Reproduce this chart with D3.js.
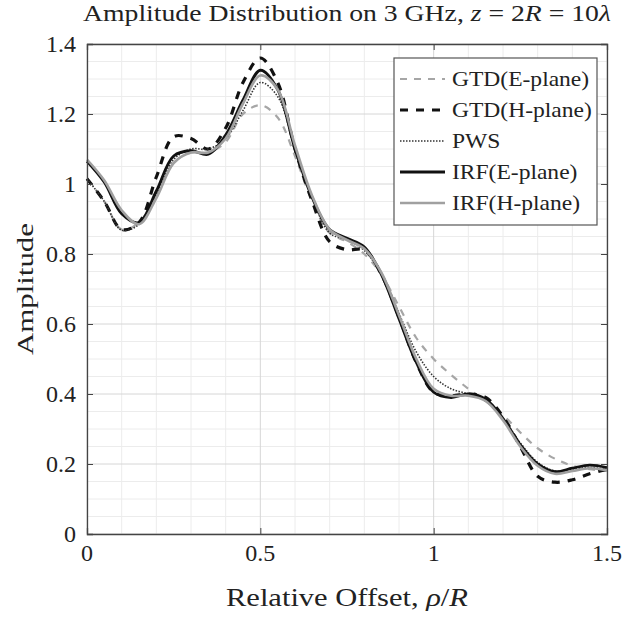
<!DOCTYPE html>
<html>
<head>
<meta charset="utf-8">
<script src="https://cdn.jsdelivr.net/npm/d3@7/dist/d3.min.js"></script>
<style>
	body { margin: 0; background: #fff; }
	svg { display: block; }
	text { font-family: "Liberation Serif", "Times New Roman", serif; fill: #222; }
</style>
</head>
<body>
<script>
(function() {

"use strict";

// relative offset rho/R, sampled every 0.05
const OFFSET = [
	0.00, 0.05, 0.10, 0.15, 0.20, 0.25, 0.30, 0.35, 0.40, 0.45,
	0.50, 0.55, 0.60, 0.65, 0.70, 0.75, 0.80, 0.85, 0.90, 0.95,
	1.00, 1.05, 1.10, 1.15, 1.20, 1.25, 1.30, 1.35, 1.40, 1.45, 1.50,
];

const GTD_E = [
	1.015, 0.950, 0.870, 0.890, 0.970, 1.060, 1.090, 1.090, 1.120, 1.200,
	1.225, 1.190, 1.080, 0.950, 0.860, 0.835, 0.800, 0.740, 0.650, 0.560,
	0.500, 0.455, 0.415, 0.380, 0.340, 0.290, 0.245, 0.215, 0.195, 0.185, 0.180,
];

const GTD_H = [
	1.015, 0.950, 0.870, 0.890, 1.020, 1.135, 1.130, 1.100, 1.160, 1.290,
	1.360, 1.290, 1.100, 0.950, 0.835, 0.812, 0.812, 0.740, 0.620, 0.490,
	0.405, 0.395, 0.400, 0.390, 0.335, 0.250, 0.165, 0.148, 0.155, 0.172, 0.185,
];

const PWS = [
	1.015, 0.950, 0.868, 0.885, 0.970, 1.070, 1.100, 1.100, 1.130, 1.210,
	1.290, 1.250, 1.100, 0.960, 0.860, 0.840, 0.810, 0.740, 0.630, 0.520,
	0.450, 0.415, 0.400, 0.380, 0.330, 0.260, 0.205, 0.180, 0.185, 0.190, 0.185,
];

const IRF_E = [
	1.065, 1.005, 0.915, 0.890, 0.980, 1.080, 1.095, 1.085, 1.140, 1.240,
	1.325, 1.270, 1.100, 0.960, 0.870, 0.845, 0.820, 0.740, 0.615, 0.490,
	0.405, 0.390, 0.400, 0.385, 0.330, 0.255, 0.200, 0.178, 0.188, 0.197, 0.190,
];

const IRF_H = [
	1.070, 1.010, 0.925, 0.885, 0.960, 1.060, 1.090, 1.090, 1.130, 1.230,
	1.310, 1.270, 1.110, 0.965, 0.870, 0.840, 0.815, 0.745, 0.625, 0.500,
	0.415, 0.395, 0.395, 0.380, 0.325, 0.250, 0.195, 0.172, 0.180, 0.188, 0.182,
];

const SERIES = ["GTD(E-plane)", "GTD(H-plane)", "PWS", "IRF(E-plane)", "IRF(H-plane)"];
const VALUES = [GTD_E, GTD_H, PWS, IRF_E, IRF_H];

const X_TICKS = [0, 0.5, 1, 1.5];
const Y_TICKS = [0, 0.2, 0.4, 0.6, 0.8, 1, 1.2, 1.4];
const X_MINOR = [0.1, 0.2, 0.3, 0.4, 0.6, 0.7, 0.8, 0.9, 1.1, 1.2, 1.3, 1.4];
const Y_MINOR = [0.05, 0.1, 0.15, 0.25, 0.3, 0.35, 0.45, 0.5, 0.55, 0.65, 0.7, 0.75,
	0.85, 0.9, 0.95, 1.05, 1.1, 1.15, 1.25, 1.3, 1.35];

const STYLE = {
	"GTD(E-plane)": {color: "#a6a6a6", width: 2.2, dash: "7,7"},
	"GTD(H-plane)": {color: "#111", width: 3.2, dash: "8,8"},
	"PWS":          {color: "#333", width: 1.6, dash: "1.5,1.5"},
	"IRF(E-plane)": {color: "#111", width: 2.8, dash: null},
	"IRF(H-plane)": {color: "#a0a0a0", width: 2.6, dash: null},
};

const width = 625, height = 618;
const margin = {top: 44, right: 18, bottom: 84, left: 87};

let svg = d3.select("body").append("svg")
	.attr("width", width)
	.attr("height", height);

let scale = {
	x: d3.scaleLinear().domain([0, 1.5]).range([margin.left, width - margin.right]),
	y: d3.scaleLinear().domain([0, 1.4]).range([height - margin.bottom, margin.top]),
};

let [x0, x1] = scale.x.range();
let [y0, y1] = scale.y.range();

// grid
let grid = svg.append("g").attr("class", "grid");

grid.selectAll("line.minor-x")
	.data(X_MINOR)
	.join("line")
		.attr("x1", d => scale.x(d)).attr("x2", d => scale.x(d))
		.attr("y1", y0).attr("y2", y1)
		.attr("stroke", "#ececec");

grid.selectAll("line.minor-y")
	.data(Y_MINOR)
	.join("line")
		.attr("y1", d => scale.y(d)).attr("y2", d => scale.y(d))
		.attr("x1", x0).attr("x2", x1)
		.attr("stroke", "#ececec");

grid.append("g")
	.selectAll("line")
	.data(X_TICKS)
	.join("line")
		.attr("x1", d => scale.x(d)).attr("x2", d => scale.x(d))
		.attr("y1", y0).attr("y2", y1)
		.attr("stroke", "#d6d6d6");

grid.append("g")
	.selectAll("line")
	.data(Y_TICKS)
	.join("line")
		.attr("y1", d => scale.y(d)).attr("y2", d => scale.y(d))
		.attr("x1", x0).attr("x2", x1)
		.attr("stroke", "#d6d6d6");

// curves
let line = d3.line()
	.x(d => scale.x(d[0]))
	.y(d => scale.y(d[1]))
	.curve(d3.curveCatmullRom.alpha(0.5));

svg.append("g")
	.attr("class", "chart")
	.selectAll("path")
	.data(SERIES)
	.join("path")
		.attr("d", (name, i) => line(OFFSET.map((x, j) => [x, VALUES[i][j]])))
		.attr("fill", "none")
		.attr("stroke", d => STYLE[d].color)
		.attr("stroke-width", d => STYLE[d].width)
		.attr("stroke-dasharray", d => STYLE[d].dash);

// axes (box with inward ticks)
let frame = "#444";

function axis(gen, transform, size) {
	svg.append("g")
		.attr("transform", transform)
		.call(gen.tickSize(size).tickFormat(""))
		.call(g => g.select(".domain").attr("stroke", frame).attr("stroke-width", 1.3))
		.call(g => g.selectAll(".tick line").attr("stroke", frame));
}

axis(d3.axisBottom(scale.x).tickValues(X_TICKS), `translate(0, ${y0})`, -6);
axis(d3.axisTop(scale.x).tickValues(X_TICKS), `translate(0, ${y1})`, -6);
axis(d3.axisLeft(scale.y).tickValues(Y_TICKS), `translate(${x0}, 0)`, -6);
axis(d3.axisRight(scale.y).tickValues(Y_TICKS), `translate(${x1}, 0)`, -6);

svg.selectAll(".domain").attr("fill", "none");

// tick labels
svg.append("g")
	.selectAll("text")
	.data(X_TICKS)
	.join("text")
		.attr("x", d => scale.x(d))
		.attr("y", 561)
		.attr("text-anchor", "middle")
		.attr("font-size", 24)
		.text(d => d3.format("~g")(d));

svg.append("g")
	.selectAll("text")
	.data(Y_TICKS)
	.join("text")
		.attr("x", x0 - 11)
		.attr("y", d => scale.y(d))
		.attr("dy", "0.35em")
		.attr("text-anchor", "end")
		.attr("font-size", 24)
		.text(d => d3.format("~g")(d));

// title
let title = svg.append("text")
	.attr("x", (x0 + x1) / 2)
	.attr("y", 21)
	.attr("text-anchor", "middle")
	.attr("font-size", 23)
	.attr("textLength", 528)
	.attr("lengthAdjust", "spacingAndGlyphs");
title.append("tspan").text("Amplitude Distribution on 3 GHz, ");
title.append("tspan").attr("font-style", "italic").text("z");
title.append("tspan").text(" = 2");
title.append("tspan").attr("font-style", "italic").text("R");
title.append("tspan").text(" = 10");
title.append("tspan").attr("font-style", "italic").text("λ");

// axis labels
let xlabel = svg.append("text")
	.attr("x", (x0 + x1) / 2)
	.attr("y", 606)
	.attr("text-anchor", "middle")
	.attr("font-size", 25)
	.attr("textLength", 242)
	.attr("lengthAdjust", "spacingAndGlyphs");
xlabel.append("tspan").text("Relative Offset, ");
xlabel.append("tspan").attr("font-style", "italic").text("ρ");
xlabel.append("tspan").text("/");
xlabel.append("tspan").attr("font-style", "italic").text("R");

svg.append("text")
	.attr("transform", `translate(33, ${(y0 + y1) / 2}) rotate(-90)`)
	.attr("text-anchor", "middle")
	.attr("font-size", 24)
	.attr("textLength", 132)
	.attr("lengthAdjust", "spacingAndGlyphs")
	.text("Amplitude");

// legend
let legend = svg.append("g").attr("transform", "translate(394, 58)");

legend.append("rect")
	.attr("width", 203)
	.attr("height", 167)
	.attr("fill", "#fff")
	.attr("stroke", "#555")
	.attr("stroke-width", 1.2);

let item = legend.selectAll("g")
	.data(SERIES)
	.join("g")
		.attr("transform", (d, i) => `translate(0, ${21 + i * 31})`);

item.append("line")
	.attr("x1", 6).attr("x2", 51)
	.attr("stroke", d => STYLE[d].color)
	.attr("stroke-width", d => STYLE[d].width)
	.attr("stroke-dasharray", d => STYLE[d].dash);

item.append("text")
	.attr("x", 58)
	.attr("dy", "0.35em")
	.attr("font-size", 21)
	.text(d => d)
	.each(function() {
		this.setAttribute("textLength", this.getComputedTextLength() * 1.12);
		this.setAttribute("lengthAdjust", "spacingAndGlyphs");
	});

})();
</script>
</body>
</html>
